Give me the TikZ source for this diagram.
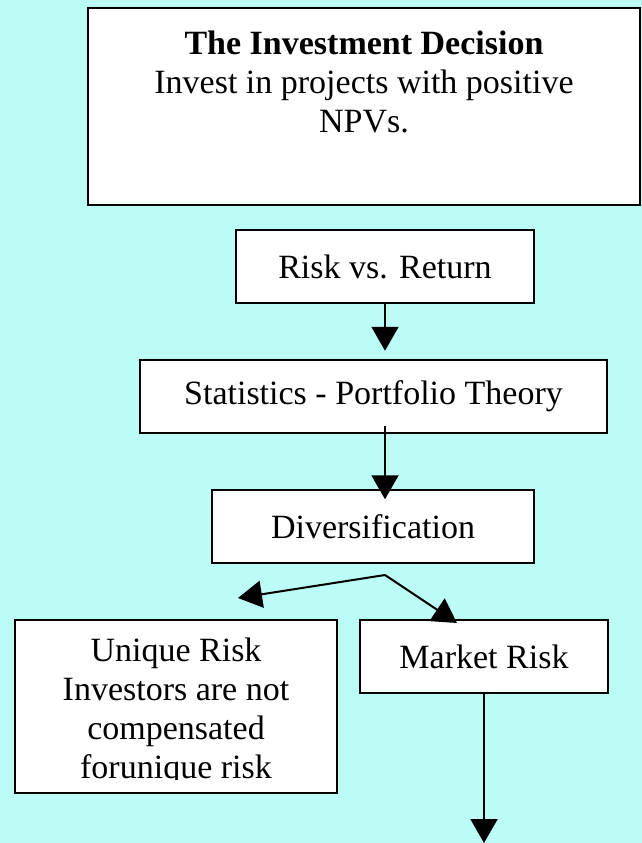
\documentclass[tikz,border=0pt]{standalone}
\usepackage{fontspec}
\setmainfont{Liberation Serif}
\usetikzlibrary{arrows.meta,positioning,calc}
\definecolor{bgcyan}{RGB}{187,253,246}

\begin{document}
\begin{tikzpicture}[x=1pt,y=-1pt]
	\fill[bgcyan] (0,0) rectangle (642,843);
	\useasboundingbox (0,0) rectangle (642,843);

	\begin{scope}[every node/.style={rectangle,draw,line width=2.5pt,fill=white,inner sep=0pt}]
		\node[minimum width=552pt,minimum height=197pt] (decision) at (364,106.5) {};
		\node[minimum width=298pt,minimum height=73pt] (risk) at (385,266.5) {};
		\node[minimum width=467pt,minimum height=73pt] (stats) at (373.5,396.5) {};
		\node[minimum width=322pt,minimum height=73pt] (divers) at (373,526.5) {};
		\node[minimum width=322pt,minimum height=173pt] (unique) at (176,706.5) {};
		\node[minimum width=248pt,minimum height=73pt] (market) at (484,656.5) {};
	\end{scope}

	\begin{scope}[every node/.style={align=center,inner sep=0pt,font=\fontsize{34}{39}\selectfont}]
		\node[below=24pt of decision.north] (decisiontext) {\textbf{The Investment Decision}\\Invest in projects with positive\\NPVs.};
		\node at (risk) {Risk vs. Return};
		\node at (stats) {Statistics - Portfolio Theory};
		\node at (divers) {Diversification};
		\node at (market) {Market Risk};
		\begin{scope}
			\clip (unique.north west) rectangle ($(unique.south east)+(0,-15)$);
			\node[below=19pt of unique.north] (uniquetext) {Unique Risk\\Investors are not\\compensated\\forunique risk};
		\end{scope}
	\end{scope}

	\coordinate (split) at (385,575);
	\coordinate (uend) at (238,598);
	\coordinate (mend) at (457,623);
	\coordinate (bottom) at (484,843);

	\begin{scope}[line width=2pt,>={Triangle[length=24pt,width=27pt]}]
		\draw[->] (risk.south) -- ($(risk.south |- stats.north)+(0,-8)$);
		\draw[->] ($(stats.south)+(11.5,-8)$) -- ($(stats.south -| risk.south)+(0,65)$);
		\draw[->] (split) -- (uend);
		\draw[->] (split) -- (mend);
		\draw[->] (market.south) -- (bottom);
	\end{scope}
\end{tikzpicture}
\end{document}
